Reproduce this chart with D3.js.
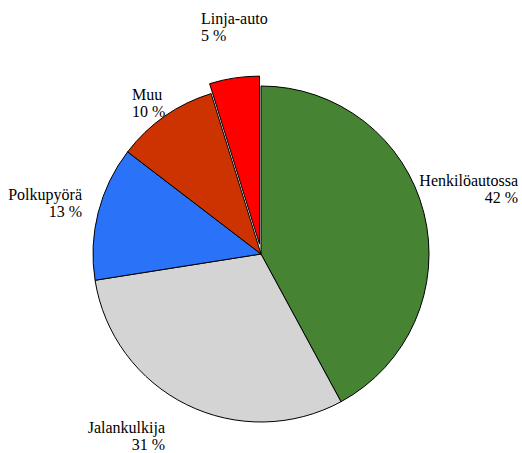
<!DOCTYPE html>
<html>
<head>
<meta charset="utf-8">
<script src="https://d3js.org/d3.v7.min.js"></script>
<style>
  body { margin: 0; background: #fff; }
</style>
</head>
<body>
<div id="chart"></div>
<script>
// data, clockwise from 12 o'clock
var categories = ["Henkilöautossa", "Jalankulkija", "Polkupyörä", "Muu", "Linja-auto"];
var shares = [42.1, 30.4, 12.9, 9.8, 4.8];
var shareLabels = ["42 %", "31 %", "13 %", "10 %", "5 %"];
var colors = ["#468434", "#d4d4d4", "#2a72f8", "#cc3300", "#ff0000"];
var exploded = ["Linja-auto"];

var width = 522, height = 453;
var cx = 261, cy = 254, radius = 168;

// label placement (offset from pie centre, anchor)
var labelLayout = {
  "Henkilöautossa": {x: 257, y: -68, anchor: "end"},
  "Jalankulkija":   {x: -96, y: 179, anchor: "end"},
  "Polkupyörä":     {x: -179, y: -54, anchor: "end"},
  "Muu":            {x: -129, y: -154, anchor: "start"},
  "Linja-auto":     {x: -60, y: -230, anchor: "start"}
};

var svg = d3.select("#chart").append("svg")
    .attr("width", width)
    .attr("height", height);

var g = svg.append("g").attr("transform", "translate(" + cx + "," + cy + ")");

var pie = d3.pie().sort(null).value(function(d) { return d; });
var arcs = pie(shares);
var arc = d3.arc().innerRadius(0).outerRadius(radius);

g.selectAll("path.slice")
  .data(arcs)
  .enter().append("path")
    .attr("class", "slice")
    .attr("d", arc)
    .attr("fill", function(d, i) { return colors[i]; })
    .attr("stroke", "#000")
    .attr("stroke-width", 1)
    .attr("transform", function(d, i) {
      if (exploded.indexOf(categories[i]) < 0) return null;
      var a = (d.startAngle + d.endAngle) / 2;
      return "translate(" + (10 * Math.sin(a)) + "," + (-10 * Math.cos(a)) + ")";
    });

// labels
var lab = g.selectAll("text.lbl")
  .data(arcs)
  .enter().append("text")
    .attr("class", "lbl")
    .style("font-family", "Liberation Serif")
    .style("font-size", "16px")
    .attr("fill", "#000")
    .attr("text-anchor", function(d, i) { return labelLayout[categories[i]].anchor; })
    .attr("transform", function(d, i) {
      var p = labelLayout[categories[i]];
      return "translate(" + p.x + "," + p.y + ")";
    });

lab.append("tspan")
    .attr("x", 0)
    .text(function(d, i) { return categories[i]; });
lab.append("tspan")
    .attr("x", 0)
    .attr("dy", 17)
    .text(function(d, i) { return shareLabels[i]; });
</script>
</body>
</html>
